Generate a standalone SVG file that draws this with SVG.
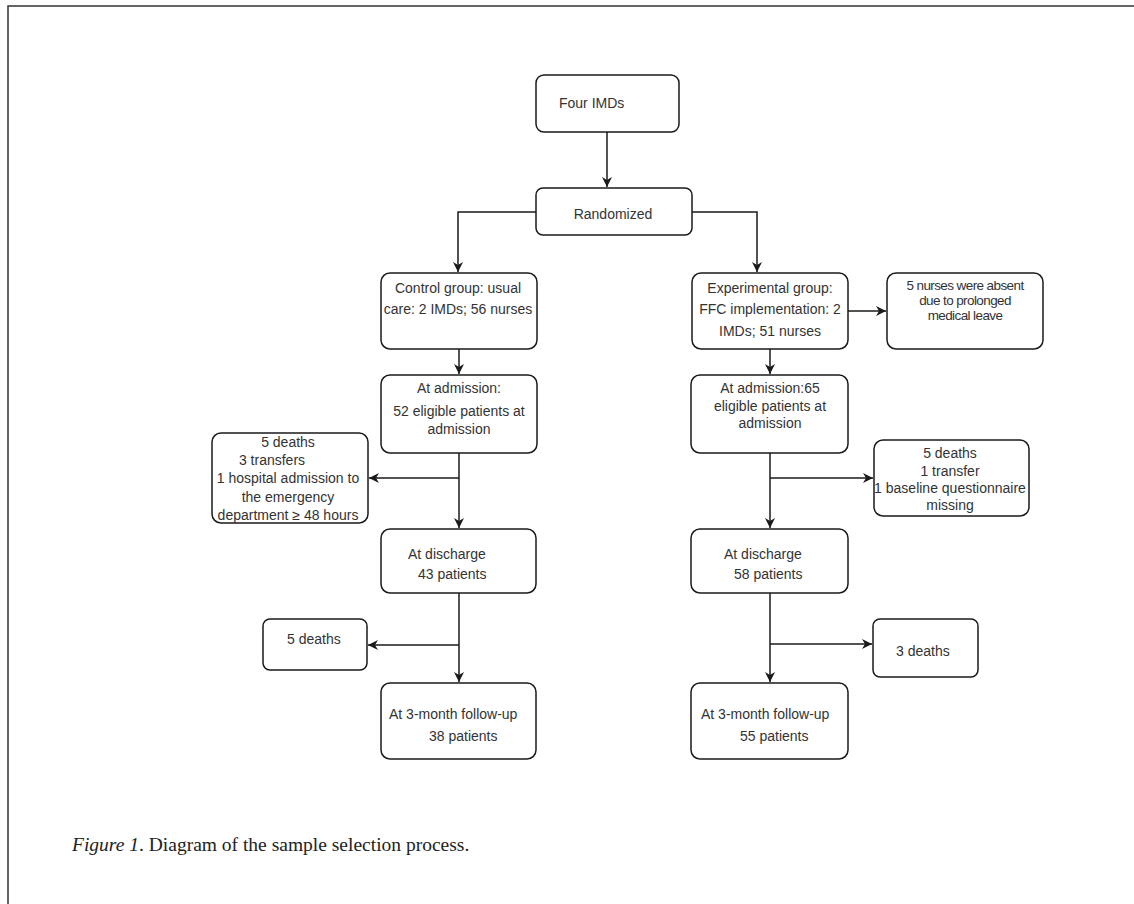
<svg xmlns="http://www.w3.org/2000/svg" width="1134" height="904" viewBox="0 0 1134 904">
<style>
.box{fill:#fff;stroke:#1a1a1a;stroke-width:1.5}
.t{font-family:"Liberation Sans",Arial,sans-serif;font-size:14px;fill:#333}
.tc{text-anchor:middle}
.n{font-family:"Liberation Sans",Arial,sans-serif;font-size:13.5px;fill:#333;text-anchor:middle;letter-spacing:-0.6px}
.ln{fill:none;stroke:#1a1a1a;stroke-width:1.5}
.cap{font-family:"Liberation Serif","Times New Roman",serif;font-size:19.5px;fill:#222}
</style>
<defs>
<marker id="ar" viewBox="0 0 10 10" refX="10" refY="5" markerWidth="10" markerHeight="10" markerUnits="userSpaceOnUse" orient="auto">
<path d="M0,0 L10,5 L0,10 L3,5 z" fill="#1a1a1a"/>
</marker>
</defs>
<rect width="1134" height="904" fill="#fff"/>
<path d="M8,904 V6 H1134" fill="none" stroke="#333" stroke-width="1.5"/>

<g id="connectors">
<path class="ln" d="M607,132 V187" marker-end="url(#ar)"/>
<path class="ln" d="M536,212 H458 V272" marker-end="url(#ar)"/>
<path class="ln" d="M692,212 H757 V272" marker-end="url(#ar)"/>
<path class="ln" d="M848,311 H886" marker-end="url(#ar)"/>
<path class="ln" d="M459,349 V374" marker-end="url(#ar)"/>
<path class="ln" d="M770,349 V374" marker-end="url(#ar)"/>
<path class="ln" d="M459,453 V528" marker-end="url(#ar)"/>
<path class="ln" d="M459,478 H369" marker-end="url(#ar)"/>
<path class="ln" d="M770,453 V528" marker-end="url(#ar)"/>
<path class="ln" d="M770,478 H873" marker-end="url(#ar)"/>
<path class="ln" d="M459,593 V682" marker-end="url(#ar)"/>
<path class="ln" d="M459,645 H368" marker-end="url(#ar)"/>
<path class="ln" d="M770,593 V682" marker-end="url(#ar)"/>
<path class="ln" d="M770,644 H872" marker-end="url(#ar)"/>
</g>

<g id="four">
<rect class="box" x="536" y="75" width="143" height="57" rx="8"/>
<text class="t" x="559" y="108">Four IMDs</text>
</g>
<g id="randomized">
<rect class="box" x="536" y="188" width="156" height="47" rx="7"/>
<text class="t tc" x="613" y="219">Randomized</text>
</g>
<g id="control">
<rect class="box" x="381" y="273" width="156" height="76" rx="9"/>
<text class="t tc" x="458" y="293">Control group: usual</text>
<text class="t tc" x="458" y="314">care: 2 IMDs; 56 nurses</text>
</g>
<g id="experimental">
<rect class="box" x="692" y="273" width="156" height="76" rx="9"/>
<text class="t tc" x="770" y="293">Experimental group:</text>
<text class="t tc" x="770" y="314">FFC implementation: 2</text>
<text class="t tc" x="770" y="336">IMDs; 51 nurses</text>
</g>
<g id="absent">
<rect class="box" x="887" y="273" width="156" height="76" rx="9"/>
<text class="n" x="965" y="290">5 nurses were absent</text>
<text class="n" x="965" y="305">due to prolonged</text>
<text class="n" x="965" y="320">medical leave</text>
</g>
<g id="adm-c">
<rect class="box" x="381" y="375" width="156" height="78" rx="9"/>
<text class="t tc" x="459" y="393">At admission:</text>
<text class="t tc" x="459" y="416">52 eligible patients at</text>
<text class="t tc" x="459" y="434">admission</text>
</g>
<g id="adm-e">
<rect class="box" x="691" y="375" width="157" height="78" rx="9"/>
<text class="t tc" x="770" y="393">At admission:65</text>
<text class="t tc" x="770" y="411">eligible patients at</text>
<text class="t tc" x="770" y="428">admission</text>
</g>
<g id="excl-c">
<rect class="box" x="212" y="433" width="156" height="90" rx="9"/>
<text class="t tc" x="288" y="447">5 deaths</text>
<text class="t tc" x="272" y="465">3 transfers</text>
<text class="t tc" x="288" y="483">1 hospital admission to</text>
<text class="t tc" x="288" y="502">the emergency</text>
<text class="t tc" x="288" y="520">department ≥ 48 hours</text>
</g>
<g id="excl-e">
<rect class="box" x="874" y="440" width="155" height="76" rx="9"/>
<text class="t tc" x="950" y="458">5 deaths</text>
<text class="t tc" x="950" y="476">1 transfer</text>
<text class="t tc" x="950" y="493">1 baseline questionnaire</text>
<text class="t tc" x="950" y="510">missing</text>
</g>
<g id="dis-c">
<rect class="box" x="381" y="529" width="155" height="64" rx="9"/>
<text class="t" x="408" y="559">At discharge</text>
<text class="t" x="418" y="579">43 patients</text>
</g>
<g id="dis-e">
<rect class="box" x="691" y="529" width="157" height="64" rx="9"/>
<text class="t" x="724" y="559">At discharge</text>
<text class="t" x="734" y="579">58 patients</text>
</g>
<g id="death-c">
<rect class="box" x="263" y="619" width="104" height="51" rx="7"/>
<text class="t" x="287" y="644">5 deaths</text>
</g>
<g id="death-e">
<rect class="box" x="873" y="619" width="105" height="58" rx="7"/>
<text class="t" x="896" y="656">3 deaths</text>
</g>
<g id="fu-c">
<rect class="box" x="381" y="683" width="155" height="76" rx="9"/>
<text class="t" x="389" y="719">At 3-month follow-up</text>
<text class="t" x="429" y="741">38 patients</text>
</g>
<g id="fu-e">
<rect class="box" x="691" y="683" width="157" height="76" rx="9"/>
<text class="t" x="701" y="719">At 3-month follow-up</text>
<text class="t" x="740" y="741">55 patients</text>
</g>

<text class="cap" x="72" y="851"><tspan font-style="italic">Figure 1</tspan>. Diagram of the sample selection process.</text>
</svg>
